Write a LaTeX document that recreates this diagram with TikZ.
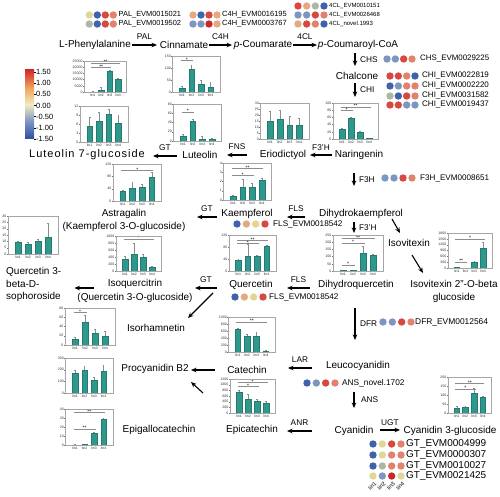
\documentclass[tikz,border=0pt]{standalone}
\usepackage{fontspec}
\setmainfont{Liberation Sans}
\usetikzlibrary{arrows.meta,calc}
\definecolor{hR}{RGB}{214,72,64}
\definecolor{hS}{RGB}{226,130,108}
\definecolor{hP}{RGB}{230,168,128}
\definecolor{hY}{RGB}{226,214,150}
\definecolor{hG}{RGB}{170,184,165}
\definecolor{hL}{RGB}{125,150,192}
\definecolor{hB}{RGB}{62,98,172}
\definecolor{hD}{RGB}{205,38,40}
\definecolor{barc}{RGB}{46,152,140}
\definecolor{cbR}{RGB}{210,40,42}
\definecolor{cbO}{RGB}{238,160,90}
\definecolor{cbY}{RGB}{242,236,190}
\definecolor{cbL}{RGB}{122,146,196}
\definecolor{cbB}{RGB}{45,78,160}
\pgfdeclareverticalshading{heat}{100bp}{color(0bp)=(cbB); color(25bp)=(cbB); color(37.5bp)=(cbL); color(50bp)=(cbY); color(62.5bp)=(cbO); color(75bp)=(cbR); color(100bp)=(cbR)}
\tikzset{
 cmp/.style={font=\fontsize{10}{12}\selectfont, inner sep=0pt},
 enz/.style={font=\fontsize{8.3}{10}\selectfont, inner sep=0.5pt},
 gene/.style={inner sep=0pt, anchor=west},
 arr/.style={-{Stealth[length=5.5pt,width=4.6pt]}, line width=1.1pt},
 cframe/.style={draw=black!35, line width=0.45pt},
 ctick/.style={draw=black!55, line width=0.3pt},
 tlbl/.style={font=\fontsize{3.5}{4}\selectfont, anchor=east, inner sep=0.4pt, text=black!80},
 llbl/.style={font=\fontsize{3.5}{4}\selectfont, inner sep=0pt, text=black!80},
 bar/.style={fill=barc, draw=barc!80!black, line width=0.25pt},
 errb/.style={draw=black!45, line width=0.35pt},
 sigl/.style={draw=black!45, line width=0.4pt},
 stars/.style={font=\fontsize{5}{5}\selectfont, inner sep=0pt, anchor=south},
 cbl/.style={font=\fontsize{7.5}{9}\selectfont, inner sep=0pt, anchor=west},
 rlin/.style={font=\fontsize{5.6}{7}\selectfont, inner sep=0pt, rotate=45, anchor=east},
}
% chart: #1 L, #2 T, #3 R, #4 B, #5 ymax, #6 ticks, #7 bars v/e, #8 sigs i/j/v/label, #9 id
\newcommand\bchart[9]{%
 \pgfmathsetmacro\cL{#1}%
 \pgfmathsetmacro\cT{#2}%
 \pgfmathsetmacro\cR{#3}%
 \pgfmathsetmacro\cB{#4}%
 \pgfmathsetmacro\cM{#5}%
 \pgfmathsetmacro\cW{\cR-\cL}%
 \pgfmathsetmacro\cH{\cB-\cT}%
 \foreach \tv/\tl [count=\ti] in {#6}{%
   \pgfmathsetmacro\ty{\cB-\tv/\cM*\cH}%
   \draw[ctick] (\cL,\ty) -- ++(-1.2,0) node[tlbl] (#9t\ti) {\tl};
 }%
 \foreach \bv/\be [count=\bi] in {#7}{%
   \pgfmathsetmacro\bx{\cL+0.2*\bi*\cW}%
   \pgfmathsetmacro\by{\cB-\bv/\cM*\cH}%
   \pgfmathsetmacro\ey{\cB-(\bv+\be)/\cM*\cH}%
   \draw[errb] (\bx,\by) -- (\bx,\ey) (\bx-0.9,\ey) -- (\bx+0.9,\ey);
   \filldraw[bar] (\bx-2.8,\cB) rectangle (\bx+2.8,\by);
   \node[llbl] (#9l\bi) at (\bx,\cB+3.4) {lin\bi};
 }%
 \foreach \sa/\sb/\sv/\sl [count=\si] in {#8}{%
   \pgfmathsetmacro\xa{\cL+0.2*\sa*\cW-1.5}%
   \pgfmathsetmacro\xb{\cL+0.2*\sb*\cW+1.5}%
   \pgfmathsetmacro\sy{\cB-\sv/\cM*\cH}%
   \draw[sigl] (\xa,\sy) -- (\xb,\sy);
   \node[stars] (#9s\si) at ({(\xa+\xb)/2},\sy+1.2) {\sl};
 }%
 \draw[cframe] (\cL,\cT) rectangle (\cR,\cB);
}
% gene row: [#1 font size] #2 name, #3 x1, #4 x4, #5 y, #6 colours, #7 text x, #8 label
\newcommand\generow[8][7.4]{%
 \foreach \c [count=\k] in {#6}{\fill[\c] ({#3+(\k-1)*(#4-#3)/3},#5) circle (3.7pt);}
 \node[gene, font=\fontsize{#1}{#1}\selectfont] (#2) at (#7,#5) {#8};
}
\begin{document}
\begin{tikzpicture}[x=1pt,y=-1pt]
\useasboundingbox (0,0) rectangle (500,497);
\fill[white] (0,0) rectangle (500,497);

% colour bar
\shade[shading=heat] (25,70) rectangle (34,139);
\foreach \v/\l [count=\n] in {0/1.50,1/1.00,2/0.50,3/0.00,4/-0.50,5/-1.00,6/-1.50}{
  \draw[line width=0.4pt] (34,{72+\v*11.17}) -- (35.5,{72+\v*11.17});
  \node[cbl] (cb\n) at (36,{72+\v*11.17}) {\l};
}

% gene rows
\generow[6]{g4cla}{298}{324}{6}{hR,hP,hG,hB}{329}{4CL\_EVM0010151}
\generow{gpala}{89.3}{113.3}{15}{hY,hB,hR,hS}{118.5}{PAL\_EVM0015021}
\generow{gpalb}{89.3}{113.3}{24}{hG,hB,hR,hS}{118.5}{PAL\_EVM0019502}
\generow[7.5]{gc4ha}{193}{217}{15}{hP,hB,hR,hP}{222}{C4H\_EVM0016195}
\generow[7.5]{gc4hb}{193}{217}{24}{hL,hL,hD,hP}{222}{C4H\_EVM0003767}
\generow[6]{g4clb}{298}{324}{15}{hL,hL,hR,hS}{329}{4CL\_EVM0026468}
\generow[6]{g4clc}{298}{324}{24}{hP,hR,hS,hB}{329}{4CL\_novel.1993}
\generow[7.9]{gchs}{387}{412}{59}{hL,hL,hR,hS}{420}{CHS\_EVM0029225}
\generow[8]{gchia}{390}{415}{76}{hR,hR,hS,hB}{422}{CHI\_EVM0022819}
\generow[8]{gchib}{390}{415}{86}{hB,hL,hS,hS}{422}{CHI\_EVM0002220}
\generow[8]{gchic}{390}{415}{96}{hG,hB,hR,hS}{422}{CHI\_EVM0031582}
\generow[8]{gchid}{390}{415}{105}{hR,hR,hL,hL}{422}{CHI\_EVM0019437}
\generow[8.1]{gf3h}{385}{412}{178}{hL,hL,hR,hS}{420}{F3H\_EVM0008651}
\generow[8.2]{gflsa}{237}{265}{224}{hB,hP,hY,hR}{273}{FLS\_EVM0018542}
\generow[8.2]{gflsb}{235}{263}{297}{hB,hP,hY,hR}{269}{FLS\_EVM0018542}
\generow[8.4]{gdfr}{383}{411}{322}{hL,hL,hR,hS}{415}{DFR\_EVM0012564}
\generow[8.3]{gans}{307}{335}{383}{hB,hL,hR,hS}{342}{ANS\_novel.1702}
\generow[10]{ggta}{373}{401}{444}{hB,hY,hR,hS}{406}{GT\_EVM0004999}
\generow[10]{ggtb}{373}{401}{455}{hB,hY,hS,hS}{406}{GT\_EVM0000307}
\generow[10]{ggtc}{373}{401}{466}{hB,hG,hS,hS}{406}{GT\_EVM0010027}
\generow[10]{ggtd}{373}{401}{476}{hY,hL,hD,hY}{406}{GT\_EVM0021425}
\foreach \i in {1,2,3,4}{
  \node[rlin] (rl\i) at ({373+(\i-1)*9.33+2.5},483) {lin\i};
}

% compounds
\node[cmp] (phe) at (95,45) {L-Phenylalanine};
\node[cmp] (cin) at (184,45) {Cinnamate};
\node[cmp] (pcou) at (263,45) {\textit{p}-Coumarate};
\node[cmp] (pcoa) at (358,45) {\textit{p}-Coumaroyl-CoA};
\node[cmp] (chal) at (357,76) {Chalcone};
\node[cmp] (nar) at (359,155) {Naringenin};
\node[cmp] (erio) at (283,155) {Eriodictyol};
\node[cmp] (lut) at (200,155) {Luteolin};
\node[cmp, font=\fontsize{11}{12}\selectfont\addfontfeatures{LetterSpace=9}] (l7g) at (87,155) {Luteolin 7-glucoside};
\node[cmp] (dhk) at (361,214) {Dihydrokaempferol};
\node[cmp] (kae) at (247,214) {Kaempferol};
\node[cmp, align=center, font=\fontsize{10}{13}\selectfont] (astr) at (124,220.5) {Astragalin\\(Kaempferol 3-O-glucoside)};
\node[cmp] (isov) at (409,243) {Isovitexin};
\node[cmp, align=center, font=\fontsize{10}{13}\selectfont] (iso2) at (454,291.5) {Isovitexin 2"-O-beta\\glucoside};
\node[cmp] (dhq) at (356,285) {Dihydroquercetin};
\node[cmp] (que) at (251,285) {Quercetin};
\node[cmp, align=center, font=\fontsize{10}{14}\selectfont] (isoq) at (135,291) {Isoquercitrin\\(Quercetin 3-O-glucoside)};
\node[cmp, align=left, anchor=west, font=\fontsize{10}{12.5}\selectfont] (soph) at (6,284.5) {Quercetin 3-\\beta-D-\\sophoroside};
\node[cmp] (isor) at (156,328) {Isorhamnetin};
\node[cmp] (leu) at (358,366) {Leucocyanidin};
\node[cmp] (cat) at (247,370) {Catechin};
\node[cmp] (pro) at (155,369) {Procyanidin B2};
\node[cmp] (egc) at (159,430) {Epigallocatechin};
\node[cmp] (epi) at (252,430) {Epicatechin};
\node[cmp] (cya) at (354,431) {Cyanidin};
\node[cmp] (c3g) at (450,431) {Cyanidin 3-glucoside};
\coordinate (chiend) at (355,97);
\coordinate (f3hend) at (354,233);

% arrows
\draw[arr] ($(phe)+(37,0)$) -- node[enz,above=4pt] (ePAL) {PAL} ($(cin)+(-27,0)$);
\draw[arr] ($(cin)+(25,0)$) -- node[enz,above=4pt] (eC4H) {C4H} ($(pcou)+(-31,0)$);
\draw[arr] ($(pcou)+(30,0)$) -- node[enz,above=4pt] (e4CL) {4CL} ($(pcoa)+(-41,0)$);
\draw[arr] ($(pcoa)+(-3,8)$) -- node[enz,right=4pt] (eCHS) {CHS} ($(chal)+(-2,-10)$);
\draw[arr] ($(chal)+(-2,7)$) -- node[enz,right=4pt] (eCHI) {CHI} (chiend);
\draw[arr] ($(nar)+(-27,0)$) -- node[enz,above=3pt] (eF3pH) {F3'H} ($(erio)+(27,0)$);
\draw[arr] ($(erio)+(-36,0)$) -- node[enz,above=4pt] (eFNS) {FNS} ($(lut)+(27,0)$);
\draw[arr] ($(lut)+(-23,1)$) -- node[enz,above=4pt] (eGT1) {GT} ($(l7g)+(66,1)$);
\draw[arr] ($(nar)+(-5,18)$) -- node[enz,right=4pt] (eF3H) {F3H} ($(dhk)+(-7,-28)$);
\draw[arr] ($(dhk)+(-56,3)$) -- node[enz,above=4pt] (eFLS1) {FLS} ($(kae)+(40,3)$);
\draw[arr] ($(kae)+(-30,3)$) -- node[enz,above=4pt] (eGT2) {GT} ($(astr)+(73,-3.5)$);
\draw[arr] ($(dhk)+(-7,8)$) -- node[enz,right=4pt] (eF3pH2) {F3'H} (f3hend);
\draw[arr] ($(dhk)+(31,5)$) -- ($(isov)+(-9,-10)$);
\draw[arr] ($(isov)+(3,12)$) -- ($(iso2)+(-31,-18.5)$);
\draw[arr] ($(dhq)+(-46,3)$) -- node[enz,above=4pt] (eFLS2) {FLS} ($(que)+(36,3)$);
\draw[arr] ($(que)+(-34,3)$) -- node[enz,above=4pt] (eGT3) {GT} ($(isoq)+(60,-3)$);
\draw[arr] ($(isoq)+(-41,-3)$) -- ($(soph.east)+(13,3.5)$);
\draw[arr] ($(que)+(-38,8)$) -- ($(isor)+(32,-10)$);
\draw[arr] ($(dhq)+(-1,23)$) -- node[enz,right=4pt] (eDFR) {DFR} ($(leu)+(-3,-26)$);
\draw[arr] ($(leu)+(-46,2)$) -- node[enz,above=4pt] (eLAR) {LAR} ($(cat)+(41,-2)$);
\draw[arr] ($(cat)+(-32,0)$) -- ($(pro)+(36,1)$);
\draw[arr] ($(epi)+(-49,-37)$) -- ($(pro)+(36,13)$);
\draw[arr] ($(leu)+(-4,26)$) -- node[enz,right=6pt] (eANS) {ANS} ($(cya)+(0,-23)$);
\draw[arr] ($(cya)+(-42,0)$) -- node[enz,above=4pt] (eANR) {ANR} ($(epi)+(35,1)$);
\draw[arr] ($(cya)+(26,-1)$) -- node[enz,above=3pt] (eUGT) {UGT} ($(c3g)+(-50,-1)$);

% bar charts
\bchart{84.2}{61}{126.7}{92}{25}{0,5/5000,10/10000,15/15000,20/20000,25/25000}{0.3/0.1,1.5/2.5,17/0.8,10.5/0.7}{1/4/23.5/**,1/3/20/**}{ca}
\bchart{80}{106}{128}{142}{12}{0,3,6,9,12}{5.3/3,6.8/3.2,9.2/1.8,6.2/2.8}{}{cb}
\bchart{172.5}{56}{220}{92}{150}{0,50,100,150}{15/10,95/15,33/18,22/20}{1/2/133/*}{cc}
\bchart{173.5}{104}{221.5}{141}{80}{0,20,40,60,80}{10/4,44/3,5/5,4/2}{1/2/63/*}{cd}
\bchart{260.5}{103}{309}{139}{30}{0,5,10,15,20,25,30}{15/8,16.5/7.5,11.5/7.5,11.5/5.5}{}{ce}
\bchart{333}{103}{378}{139}{100}{0,20,40,60,80,100}{27/4,57/3,18/4,2/1}{1/4/89/**,1/2/80/*}{cf}
\bchart{113}{164}{161.5}{201}{120}{0,40,80,120}{33/2,42/20,45/10,78/15}{1/4/100/*}{cg}
\bchart{223.5}{163}{271.5}{200}{4}{0,1,2,3,4}{0.4/0.1,1.4/0.8,1.35/0.45,2.15/0.2}{1/4/3.4/**,1/3/2.7/*}{ch}
\bchart{8}{216}{58}{254}{30}{0,5,10,15,20,25,30}{9.5/1,8/1.5,10.5/1.5,13.5/10.5}{}{ci}
\bchart{116}{236}{161}{271}{1000}{0,200,400,600,800,1000}{340/80,490/310,400/70,100/30}{1/4/920/*}{cj}
\bchart{229}{235}{276}{271}{120}{0,40,80,120}{37/4,48/42,50/3,82/5}{1/4/103/**,1/3/92/*}{ck}
\bchart{333}{235}{383}{271}{250}{0,50,100,150,200,250}{3/1,5/2,125/45,110/5}{1/4/228/**,1/3/195/*,1/2/42/*}{cl}
\bchart{448}{233}{492}{268}{1800}{0,300,600,900,1200,1500,1800}{50/10,5/2,280/80,1000/350}{1/4/1500/*,1/2/310/**}{cm}
\bchart{65}{308}{115}{345}{80}{0,20,40,60,80}{12/6,50/15,26/9,19/10}{1/2/70/*}{cn}
\bchart{228.5}{317}{275}{352}{1000}{0,200,400,600,800,1000}{650/30,450/70,450/120,30/10}{1/4/860/**}{co}
\bchart{65.5}{358}{113}{393}{300}{0,100,200,300}{170/25,195/35,110/25,185/50}{}{cp}
\bchart{65.5}{409}{113}{445}{40}{0,10,20,30,40}{0.3/0.1,0.5/0.2,13.5/0.8,28.5/1}{1/4/36/**,1/3/18/**}{cq}
\bchart{230}{379}{275}{413}{1200}{0,200,400,600,800,1000,1200}{720/100,480/200,420/60,360/60}{1/4/1090/*,1/3/950/*}{cr}
\bchart{448}{377}{491.5}{413}{200}{0,50,100,150,200}{28/8,30/8,108/30,90/4}{1/4/165/**,1/3/135/*}{cs}
\end{tikzpicture}
\end{document}
